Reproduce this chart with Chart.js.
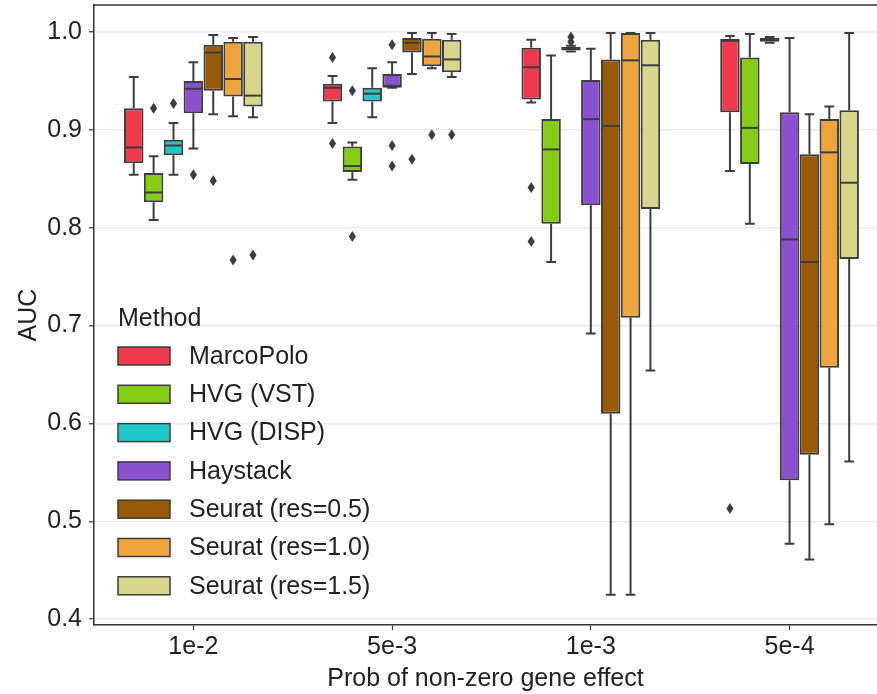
<!DOCTYPE html>
<html>
<head>
<meta charset="utf-8">
<script src="https://cdn.jsdelivr.net/npm/chart.js@4.4.1/dist/chart.umd.min.js"></script>
<style>
  html, body { margin: 0; padding: 0; background: #ffffff; overflow: hidden; }
  #wrap { width: 877px; height: 694px; position: relative; }
</style>
</head>
<body>
<div id="wrap"><canvas id="chart" width="877" height="694"></canvas></div>
<script>
// ---- Data ----
const categories = ['1e-2', '5e-3', '1e-3', '5e-4'];
const methods = ['MarcoPolo', 'HVG (VST)', 'HVG (DISP)', 'Haystack', 'Seurat (res=0.5)', 'Seurat (res=1.0)', 'Seurat (res=1.5)'];
const colors = ['#ee3a4c', '#84cc16', '#1ec8c8', '#8a50d0', '#995a07', '#f0a43e', '#d8d58c'];
const yTicks = [0.4, 0.5, 0.6, 0.7, 0.8, 0.9, 1.0];

// per category: [lower whisker, Q1, median, Q3, upper whisker]
const marcoPolo = [[0.854, 0.866, 0.882, 0.922, 0.954], [0.907, 0.929, 0.943, 0.947, 0.955], [0.928, 0.931, 0.964, 0.984, 0.992], [0.858, 0.918, 0.991, 0.993, 0.996]];
const hvgVst    = [[0.808, 0.826, 0.836, 0.856, 0.873], [0.849, 0.857, 0.863, 0.883, 0.887], [0.765, 0.804, 0.880, 0.911, 0.976], [0.804, 0.865, 0.902, 0.974, 0.998]];
const hvgDisp   = [[0.854, 0.874, 0.884, 0.890, 0.907], [0.913, 0.929, 0.937, 0.943, 0.963], [0.980, 0.981, 0.983, 0.985, 0.986], [0.989, 0.990, 0.992, 0.994, 0.995]];
const haystack  = [[0.881, 0.917, 0.942, 0.950, 0.969], [0.943, 0.943, 0.945, 0.957, 0.969], [0.692, 0.823, 0.911, 0.951, 0.983], [0.477, 0.542, 0.788, 0.918, 0.994]];
const seurat05  = [[0.916, 0.940, 0.979, 0.987, 0.997], [0.957, 0.979, 0.989, 0.994, 0.999], [0.425, 0.610, 0.904, 0.972, 0.999], [0.461, 0.568, 0.765, 0.875, 0.916]];
const seurat10  = [[0.914, 0.934, 0.952, 0.990, 0.994], [0.963, 0.965, 0.975, 0.993, 0.999], [0.425, 0.708, 0.971, 0.999, 0.999], [0.497, 0.657, 0.877, 0.911, 0.924]];
const seurat15  = [[0.913, 0.924, 0.935, 0.990, 0.995], [0.954, 0.959, 0.972, 0.992, 0.998], [0.654, 0.819, 0.966, 0.992, 0.999], [0.561, 0.768, 0.846, 0.920, 0.999]];

// outliers per category
const marcoPoloOut = [[], [0.974, 0.886], [0.841, 0.786], [0.513]];
const hvgVstOut    = [[0.922], [0.940, 0.791], [], []];
const hvgDispOut   = [[0.927], [], [0.995, 0.990], []];
const haystackOut  = [[0.854], [0.987, 0.884, 0.863], [], []];
const seurat05Out  = [[0.848], [0.870], [], []];
const seurat10Out  = [[0.767], [0.895], [], []];
const seurat15Out  = [[0.772], [0.895], [], []];

const stats = [marcoPolo, hvgVst, hvgDisp, haystack, seurat05, seurat10, seurat15];
const outliers = [marcoPoloOut, hvgVstOut, hvgDispOut, haystackOut, seurat05Out, seurat10Out, seurat15Out];

// ---- Styling ----
const FONT = "'Liberation Sans', Arial, sans-serif";
const TEXT = '#222222';
const EDGE = '#3d3d3d';

const datasets = methods.map((m, k) => ({
  label: m,
  data: categories.map((c, i) => ({ x: i, y: [stats[k][i][1], stats[k][i][3]] })),
  backgroundColor: colors[k],
  borderColor: EDGE,
  borderWidth: 2,
  borderSkipped: false,
  barPercentage: 0.98,
  categoryPercentage: 0.7
}));

function diamond(ctx, x, y) {
  ctx.beginPath();
  ctx.moveTo(x, y - 5.5);
  ctx.lineTo(x + 3.6, y);
  ctx.lineTo(x, y + 5.5);
  ctx.lineTo(x - 3.6, y);
  ctx.closePath();
  ctx.fill();
}

const boxPlugin = {
  id: 'boxplot',
  beforeDatasetsDraw(chart) {
    const ctx = chart.ctx, ys = chart.scales.y;
    ctx.save();
    ctx.strokeStyle = EDGE;
    ctx.lineWidth = 2;
    stats.forEach((s, k) => {
      const meta = chart.getDatasetMeta(k);
      meta.data.forEach((bar, i) => {
        const [lo, q1, med, q3, hi] = s[i];
        const x = bar.x, half = bar.width / 4;
        const pLo = ys.getPixelForValue(lo), pQ1 = ys.getPixelForValue(q1);
        const pQ3 = ys.getPixelForValue(q3), pHi = ys.getPixelForValue(hi);
        ctx.beginPath();
        ctx.moveTo(x, pQ1); ctx.lineTo(x, pLo);
        ctx.moveTo(x, pQ3); ctx.lineTo(x, pHi);
        ctx.moveTo(x - half, pLo); ctx.lineTo(x + half, pLo);
        ctx.moveTo(x - half, pHi); ctx.lineTo(x + half, pHi);
        ctx.stroke();
      });
    });
    ctx.restore();
  },
  afterDatasetsDraw(chart) {
    const ctx = chart.ctx, ys = chart.scales.y;
    ctx.save();
    ctx.strokeStyle = EDGE;
    ctx.fillStyle = EDGE;
    ctx.lineWidth = 2;
    stats.forEach((s, k) => {
      const meta = chart.getDatasetMeta(k);
      meta.data.forEach((bar, i) => {
        const med = s[i][2];
        const pm = ys.getPixelForValue(med);
        ctx.beginPath();
        ctx.moveTo(bar.x - bar.width / 2 + 1, pm);
        ctx.lineTo(bar.x + bar.width / 2 - 1, pm);
        ctx.stroke();
        outliers[k][i].forEach(v => diamond(ctx, bar.x, ys.getPixelForValue(v)));
      });
    });
    ctx.restore();
  },
  afterDraw(chart) {
    const ctx = chart.ctx, a = chart.chartArea;
    ctx.save();
    // top frame line
    ctx.strokeStyle = '#333333';
    ctx.lineWidth = 1.5;
    ctx.beginPath();
    ctx.moveTo(a.left, a.top);
    ctx.lineTo(chart.width, a.top);
    ctx.stroke();
    // legend
    const lx = 118, ly0 = 347, step = 38.3;
    ctx.fillStyle = TEXT;
    ctx.font = '25px ' + FONT;
    ctx.textBaseline = 'alphabetic';
    ctx.textAlign = 'left';
    ctx.fillText('Method', lx, 326);
    ctx.textBaseline = 'middle';
    methods.forEach((m, k) => {
      const y = ly0 + k * step;
      ctx.fillStyle = colors[k];
      ctx.fillRect(lx, y, 52, 18);
      ctx.strokeStyle = EDGE;
      ctx.lineWidth = 1.5;
      ctx.strokeRect(lx, y, 52, 18);
      ctx.fillStyle = TEXT;
      ctx.fillText(m, 189, y + 10);
    });
    ctx.restore();
  }
};

new Chart(document.getElementById('chart'), {
  type: 'bar',
  data: { datasets },
  plugins: [boxPlugin],
  options: {
    responsive: false,
    animation: false,
    devicePixelRatio: 1,
    layout: { autoPadding: false, padding: { top: 5, right: 0, left: 0, bottom: 0 } },
    plugins: { legend: { display: false }, tooltip: { enabled: false } },
    scales: {
      x: {
        type: 'linear',
        offset: false,
        min: -0.5,
        max: 3.44,
        afterBuildTicks: s => { s.ticks = categories.map((c, i) => ({ value: i })); },
        afterFit: s => { s.height = 69; s.paddingLeft = 0; s.paddingRight = 0; },
        ticks: {
          callback: v => categories[v],
          font: { family: FONT, size: 25 },
          color: TEXT,
          padding: 2,
          maxRotation: 0,
          autoSkip: false
        },
        grid: { display: true, offset: false, drawOnChartArea: false, drawTicks: true, tickLength: 5, tickColor: '#333333', tickWidth: 1.2 },
        border: { display: true, color: '#333333', width: 1.5 },
        title: { display: true, text: 'Prob of non-zero gene effect', font: { family: FONT, size: 25 }, color: TEXT, padding: { top: 0, bottom: 0 } }
      },
      y: {
        min: 0.394,
        max: 1.0276,
        afterBuildTicks: s => { s.ticks = yTicks.map(v => ({ value: v })); },
        afterFit: s => { s.width = 94; s.paddingTop = 0; s.paddingBottom = 0; },
        ticks: {
          callback: v => v.toFixed(1),
          font: { family: FONT, size: 25 },
          color: TEXT,
          padding: 7
        },
        grid: { color: '#ececec', lineWidth: 1.5, tickColor: '#333333', tickLength: 5, tickWidth: 1.2 },
        border: { display: true, color: '#333333', width: 1.5 },
        title: { display: true, text: 'AUC', font: { family: FONT, size: 25 }, color: TEXT, padding: { top: 14, bottom: 0 } }
      }
    }
  }
});
</script>
</body>
</html>
